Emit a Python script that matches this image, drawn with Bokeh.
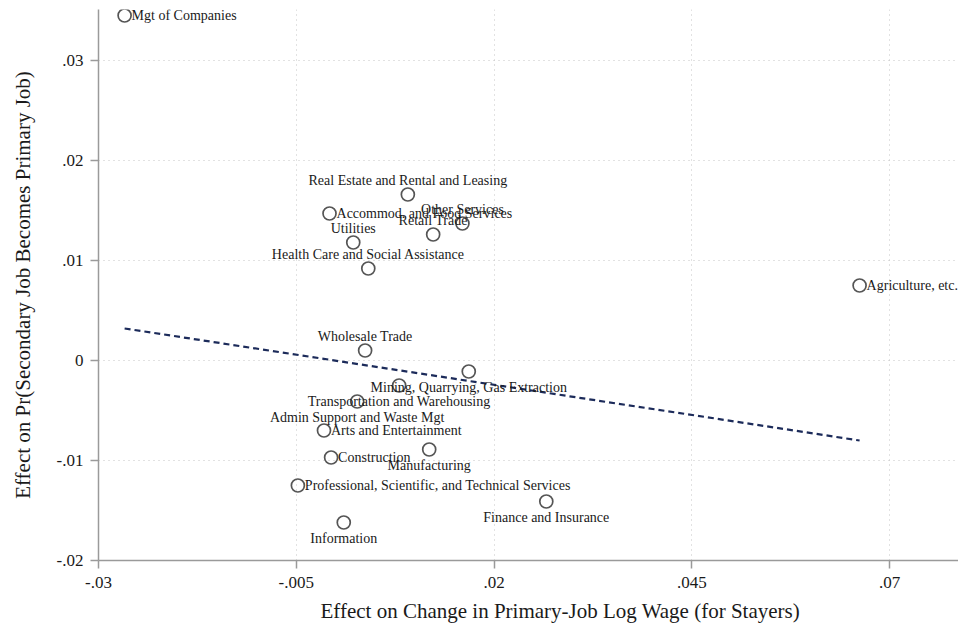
from bokeh.plotting import figure
from bokeh.models import ColumnDataSource, FixedTicker, CustomJSTickFormatter, Range1d, Title
from bokeh.core.properties import value
from bokeh.embed import file_html
from bokeh.resources import INLINE

industries = ["Mgt of Companies", "Real Estate and Rental and Leasing",
              "Accommod. and Food Services", "Other Services", "Retail Trade",
              "Utilities", "Health Care and Social Assistance", "Agriculture, etc.",
              "Wholesale Trade", "Mining, Quarrying, Gas Extraction",
              "Transportation and Warehousing", "Admin Support and Waste Mgt",
              "Arts and Entertainment", "Construction", "Manufacturing",
              "Professional, Scientific, and Technical Services",
              "Finance and Insurance", "Information"]
wage_effect = [-0.0267, 0.0091, -0.0008, 0.0160, 0.0123, 0.0022, 0.0041, 0.0662,
               0.0037, 0.0168, 0.0080, 0.0027, -0.0015, -0.0006, 0.0118, -0.0048,
               0.0266, 0.0010]
primary_effect = [0.0345, 0.0166, 0.0147, 0.0137, 0.0126, 0.0118, 0.0092, 0.0075,
                  0.0010, -0.0011, -0.0025, -0.0041, -0.0070, -0.0097, -0.0089,
                  -0.0125, -0.0141, -0.0162]
# clock position of each marker label (3 = right, 12 = above, 6 = below)
label_pos = [3, 12, 3, 12, 12, 12, 12, 3, 12, 6, 6, 6, 3, 3, 6, 3, 6, 6]

fit_x = [-0.0267, 0.0662]
fit_y = [0.0032, -0.0080]

x_ticks = [-0.03, -0.005, 0.02, 0.045, 0.07]
y_ticks = [-0.02, -0.01, 0.0, 0.01, 0.02, 0.03]

x_title = "Effect on Change in Primary-Job Log Wage (for Stayers)"
y_title = "Effect on Pr(Secondary Job Becomes Primary Job)"

FONT = value("Liberation Serif")
TXT = "#1a1a1a"
AX = "#9a9a9a"

p = figure(width=958, height=630, output_backend="svg", toolbar_location=None,
           x_range=Range1d(-0.03, 0.0787), y_range=Range1d(-0.02, 0.0351),
           min_border_left=98, min_border_right=0, min_border_top=9,
           min_border_bottom=70)
p.outline_line_color = None
p.background_fill_color = "white"
p.border_fill_color = "white"

fmt = CustomJSTickFormatter(code="""
let s = (Math.round(tick*100000)/100000).toString();
return s.replace(/^(-?)0\\./, '$1.');
""")

for ax, ticks in ((p.xaxis, x_ticks), (p.yaxis, y_ticks)):
    ax.ticker = FixedTicker(ticks=ticks)
    ax.formatter = fmt
    ax.axis_line_color = AX
    ax.axis_line_width = 1.5
    ax.major_tick_line_color = AX
    ax.major_tick_line_width = 1.5
    ax.major_tick_out = 8
    ax.major_tick_in = 0
    ax.minor_tick_line_color = None
    ax.major_label_text_font = "Liberation Serif"
    ax.major_label_text_font_size = "17px"
    ax.major_label_text_color = TXT
    ax.axis_label_text_font = "Liberation Serif"
    ax.axis_label_text_font_size = "21px"
    ax.axis_label_text_font_style = "normal"
    ax.axis_label_text_color = TXT

p.yaxis.axis_label = y_title
p.xaxis.major_label_standoff = 8
p.yaxis.major_label_standoff = 7
p.yaxis.axis_label_standoff = 19

xt = Title(text=x_title, align="left", offset=222, standoff=13,
           text_font="Liberation Serif", text_font_size="21px",
           text_font_style="normal", text_color=TXT)
p.add_layout(xt, "below")

for g in (p.xgrid, p.ygrid):
    g.grid_line_color = "#c4c4c4"
    g.grid_line_dash = "1 4"
    g.grid_line_width = 1

# fitted line
p.line(fit_x, fit_y, line_color="#1c2b5a", line_width=2.2, line_dash="6 4")

src = ColumnDataSource(dict(x=wage_effect, y=primary_effect, label=industries))
p.scatter("x", "y", source=src, marker="circle", size=13, fill_color=None,
          line_color="#555555", line_width=1.7)

settings = {3: dict(text_align="left", text_baseline="middle", x_offset=7, y_offset=0),
            12: dict(text_align="center", text_baseline="bottom", x_offset=0, y_offset=-7),
            6: dict(text_align="center", text_baseline="top", x_offset=0, y_offset=8)}
for pos, kw in settings.items():
    idx = [i for i, q in enumerate(label_pos) if q == pos]
    s = ColumnDataSource(dict(x=[wage_effect[i] for i in idx],
                              y=[primary_effect[i] for i in idx],
                              label=[industries[i] for i in idx]))
    p.text("x", "y", text="label", source=s, text_font=FONT, text_font_size="14px",
           text_color=TXT, **kw)

open("out.html", "w").write(file_html(p, INLINE))
